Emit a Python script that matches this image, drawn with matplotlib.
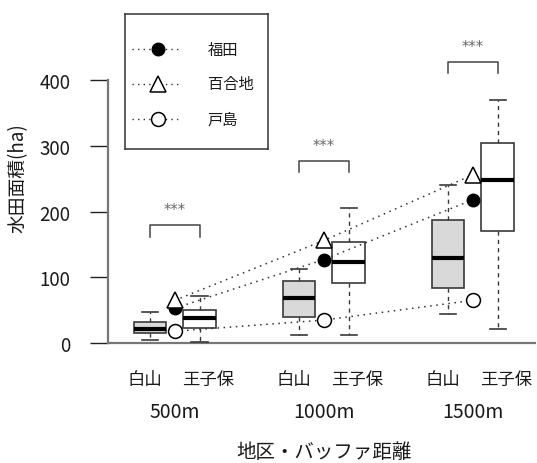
import matplotlib.pyplot as plt
import matplotlib.transforms as mtransforms

plt.rcParams['font.family'] = ['Noto Sans CJK JP', 'DejaVu Sans']

# 地区・バッファ距離ごとの水田面積 (ha)
buffers = ['500m', '1000m', '1500m']
districts = ['白山', '王子保']
positions = [1, 2, 4, 5, 7, 8]
whis_lo = [5, 2, 12, 13, 44, 21]
q1 = [15, 23, 39, 91, 83, 170]
medians = [21, 38, 68, 123, 130, 248]
q3 = [32, 51, 94, 153, 187, 305]
whis_hi = [48, 71, 112, 205, 240, 370]

# 比較地区の水田面積
ref_names = ['福田', '百合地', '戸島']
ref_x = [1.5, 4.5, 7.5]
fukuda = [53, 127, 218]
yurigaji = [65, 156, 256]
toshima = [18, 35, 65]

# 有意差の括弧 (***)
bracket_top = [179, 277, 427]
bracket_leg = [161, 260, 411]

fig = plt.figure(figsize=(5.37, 4.64), dpi=100)
ax = fig.add_axes([108 / 537, 114 / 464, 428 / 537, 340 / 464])

stats = []
for lo, a, m, b, hi in zip(whis_lo, q1, medians, q3, whis_hi):
    stats.append(dict(whislo=lo, q1=a, med=m, q3=b, whishi=hi, fliers=[]))

edge = '#3a3a3a'
bp = ax.bxp(stats, positions=positions, widths=0.66, patch_artist=True,
            showfliers=False,
            boxprops=dict(edgecolor=edge, linewidth=1.2),
            medianprops=dict(color='black', linewidth=3, solid_capstyle='butt'),
            whiskerprops=dict(color=edge, linewidth=1.0, linestyle=(0, (3, 3))),
            capprops=dict(color=edge, linewidth=1.2))
for i, box in enumerate(bp['boxes']):
    box.set_facecolor('#d9d9d9' if i % 2 == 0 else 'white')

# 比較地区 (点線でつなぐ)
ref_style = [
    dict(marker='o', markersize=9, markerfacecolor='black', markeredgecolor='black'),
    dict(marker='^', markersize=11, markerfacecolor='white', markeredgecolor='black', markeredgewidth=1.1),
    dict(marker='o', markersize=10, markerfacecolor='white', markeredgecolor='black', markeredgewidth=1.1),
]
for vals, st in zip([fukuda, yurigaji, toshima], ref_style):
    ax.plot(ref_x, vals, linestyle=(0, (1, 3)), color='#333333', linewidth=1.1,
            zorder=4, **st)

# 有意差の括弧
for x, top, leg in zip(ref_x, bracket_top, bracket_leg):
    ax.plot([x - 0.5, x - 0.5, x + 0.5, x + 0.5], [leg, top, top, leg],
            color='#444444', linewidth=1.1)
    ax.text(x, top + 12, '***', ha='center', va='bottom', fontsize=10.5,
            color='#666666', family=['DejaVu Sans'])

ax.set_xlim(0.155, 8.77)
ax.set_ylim(-9, 508)
ax.axhline(0, color='#777777', linewidth=1.6, zorder=1)

for s in ['top', 'right', 'bottom']:
    ax.spines[s].set_visible(False)
ax.spines['left'].set_bounds(0, 400)
ax.spines['left'].set_color('#777777')
ax.spines['left'].set_linewidth(1.6)
ax.set_xticks([])
ax.set_yticks([0, 100, 200, 300, 400])
ax.tick_params(axis='y', length=13, width=1.0, color='#222222', pad=14,
               labelsize=13.5, labelcolor='#1a1a1a')

# x 軸ラベル
trans = mtransforms.blended_transform_factory(ax.transData, fig.transFigure)
for j, (bx, name) in enumerate(zip(ref_x, buffers)):
    ax.text(bx - 0.6, 1 - 380 / 464, districts[0], transform=trans,
            ha='center', va='center', fontsize=12.5, color='#1a1a1a')
    ax.text(bx + 0.67, 1 - 380 / 464, districts[1], transform=trans,
            ha='center', va='center', fontsize=12.5, color='#1a1a1a')
    ax.text(bx, 1 - 413 / 464, name, transform=trans,
            ha='center', va='center', fontsize=14, color='#1a1a1a')
ax.text(4.5, 1 - 453 / 464, '地区・バッファ距離', transform=trans,
        ha='center', va='center', fontsize=14, color='#1a1a1a')
fig.text(18 / 537, 1 - 178 / 464, '水田面積(ha)', rotation=90,
         ha='center', va='center', fontsize=13.5, color='#1a1a1a')

# 凡例
lax = fig.add_axes([125 / 537, 1 - 150 / 464, 143 / 537, 135 / 464])
lax.set_xlim(0, 143)
lax.set_ylim(135, 0)
lax.set_xticks([])
lax.set_yticks([])
for s in lax.spines.values():
    s.set_color('#333333')
    s.set_linewidth(1.1)
for row, (name, st) in enumerate(zip(ref_names, ref_style)):
    y = 35 + 35 * row
    lax.plot([7, 55], [y, y], linestyle=(0, (1, 3)), color='#333333', linewidth=1.0)
    lax.plot([33], [y], **st)
    lax.text(83, y, name, ha='left', va='center', fontsize=11, color='#1a1a1a')

fig.savefig('out.png', dpi=100)
